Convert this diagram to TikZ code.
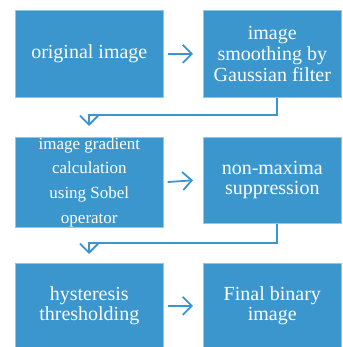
\documentclass[tikz,border=0pt]{standalone}
\usepackage{fontspec}
\setmainfont{Liberation Serif}
\usetikzlibrary{arrows.meta}
\definecolor{boxblue}{RGB}{58,150,205}
\begin{document}
\begin{tikzpicture}[x=1pt,y=1pt,
  stepbox/.style={rectangle, fill=boxblue, draw=boxblue!55!white, line width=0.6pt,
    text=white, align=center, inner sep=0pt, anchor=north west,
    font=\fontsize{20}{21}\selectfont},
  leftbox/.style={stepbox, minimum width=148pt},
  rightbox/.style={stepbox, minimum width=138pt},
  conn/.style={draw=boxblue, line width=1.8pt, -{Straight Barb[length=9pt,width=18pt]}}]
\useasboundingbox (0,0) rectangle (342,-347);
\node[leftbox, minimum height=87pt] (b1) at (15,-10) {original image};
\node[rightbox, minimum height=87pt] (b2) at (203,-10) {image\\smoothing by\\Gaussian filter};
\node[leftbox, minimum height=86pt, font=\fontsize{17}{24.7}\selectfont] (b3) at (15,-137) {image gradient\\calculation\\using Sobel\\operator};
\node[rightbox, minimum height=86pt, font=\fontsize{20}{20}\selectfont] (b4) at (203,-137) {non-maxima\\suppression};
\node[leftbox, minimum height=85pt, font=\fontsize{20}{20}\selectfont] (b5) at (15,-263) {hysteresis\\thresholding};
\node[rightbox, minimum height=85pt, font=\fontsize{20}{20}\selectfont] (b6) at (203,-263) {Final binary\\image};
\draw[conn] ([xshift=4pt]b1.east) -- ([xshift=-10pt]b2.west);
\draw[conn] ([xshift=4pt]b3.east) -- ([xshift=-10pt]b4.west);
\draw[conn] ([xshift=4pt]b5.east) -- ([xshift=-10pt]b6.west);
\coordinate (c1) at (277,-115);
\coordinate (d1) at (89,-115);
\coordinate (t1) at (89,-126);
\draw[conn] (b2.south -| c1) -- (c1) -- (d1) -- (t1);
\coordinate (c2) at (277,-243);
\coordinate (d2) at (89,-243);
\coordinate (t2) at (89,-254);
\draw[conn] (b4.south -| c2) -- (c2) -- (d2) -- (t2);
\end{tikzpicture}
\end{document}
